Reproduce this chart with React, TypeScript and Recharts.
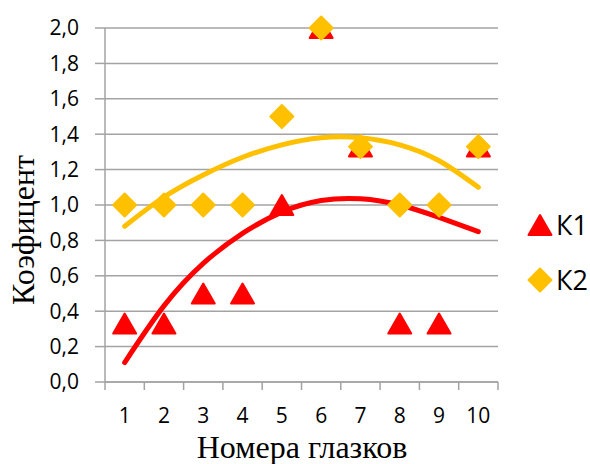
import React from 'react'
import {
  ComposedChart,
  Scatter,
  Line,
  XAxis,
  YAxis,
  CartesianGrid,
  Label,
} from 'recharts'

// номера глазков
const categories = [1, 2, 3, 4, 5, 6, 7, 8, 9, 10]
const k1 = [0.33, 0.33, 0.5, 0.5, 1.0, 2.0, 1.33, 0.33, 0.33, 1.33]
const k2 = [1.0, 1.0, 1.0, 1.0, 1.5, 2.0, 1.33, 1.0, 1.0, 1.33]
// полиномиальные линии тренда
const trendK1 = [0.11, 0.43, 0.67, 0.84, 0.96, 1.025, 1.035, 1.0, 0.93, 0.85]
const trendK2 = [0.88, 1.045, 1.17, 1.27, 1.34, 1.38, 1.38, 1.34, 1.25, 1.1]
const yTicks = [0, 0.2, 0.4, 0.6, 0.8, 1.0, 1.2, 1.4, 1.6, 1.8, 2.0]
const xTicks = [0.5, 1, 1.5, 2, 2.5, 3, 3.5, 4, 4.5, 5, 5.5, 6, 6.5, 7, 7.5, 8, 8.5, 9, 9.5, 10, 10.5]

const RED = '#FF0000'
const ORANGE = '#FFC000'
const GRID = '#a3a3a3'
const SANS = '"Open Sans", "Noto Sans", sans-serif'
const SERIF = '"Liberation Serif", "DejaVu Serif", serif'

const data = categories.map((x, i) => ({
  x,
  k1: k1[i],
  k2: k2[i],
  t1: trendK1[i],
  t2: trendK2[i],
}))

function triangle(cx: number, cy: number, color: string) {
  const pts = `${cx},${cy - 10} ${cx + 11.5},${cy + 10} ${cx - 11.5},${cy + 10}`
  return <polygon points={pts} fill={color} stroke={color} strokeWidth={2} strokeLinejoin="round" />
}

function diamond(cx: number, cy: number, color: string) {
  const pts = `${cx},${cy - 11.5} ${cx + 11.5},${cy} ${cx},${cy + 11.5} ${cx - 11.5},${cy}`
  return <polygon points={pts} fill={color} stroke={color} strokeWidth={2} strokeLinejoin="round" />
}

const TriangleShape = (p: any) => <g>{triangle(p.cx, p.cy, RED)}</g>
const DiamondShape = (p: any) => <g>{diamond(p.cx, p.cy, ORANGE)}</g>

// целые значения — подписи, половинки — засечки между категориями
const XTick = (p: any) => {
  const v = p.payload.value
  if (Number.isInteger(v)) {
    return (
      <text x={p.x} y={p.y + 33} textAnchor="middle" fontFamily={SANS} fontSize={21} fill="#000">
        {v}
      </text>
    )
  }
  return <line x1={p.x} x2={p.x} y1={p.y - 8} y2={p.y} stroke={GRID} strokeWidth={1.5} />
}

function LegendBox() {
  const rows = [
    { name: 'К1', draw: (y: number) => triangle(15, y, RED) },
    { name: 'К2', draw: (y: number) => diamond(15, y, ORANGE) },
  ]
  return (
    <svg width={66} height={110} style={{ position: 'absolute', left: 525, top: 198 }}>
      {rows.map((r, i) => {
        const y = 27 + i * 55
        return (
          <g key={r.name}>
            {r.draw(y)}
            <text x={31} y={y + 10} fontFamily={SANS} fontSize={27} fill="#000">
              {r.name}
            </text>
          </g>
        )
      })}
    </svg>
  )
}

export default function App() {
  return (
    <div style={{ position: 'absolute', left: 0, top: 0, width: 590, height: 464, background: '#fff' }}>
      <ComposedChart width={590} height={464} data={data} margin={{ top: 28, right: 92, bottom: 0, left: 0 }}>
        <CartesianGrid vertical={false} stroke={GRID} strokeWidth={1.5} />
        <XAxis
          dataKey="x"
          type="number"
          domain={[0.5, 10.5]}
          ticks={xTicks}
          interval={0}
          height={82}
          tickSize={8}
          tickMargin={0}
          tickLine={false}
          axisLine={{ stroke: GRID, strokeWidth: 1.5 }}
          tick={<XTick />}
        >
          <Label
            content={() => (
              <text x={302} y={458} textAnchor="middle" fontFamily={SERIF} fontSize={32} fill="#000">
                Номера глазков
              </text>
            )}
          />
        </XAxis>
        <YAxis
          type="number"
          domain={[0, 2]}
          ticks={yTicks}
          interval={0}
          width={105}
          tickSize={10}
          tickMargin={16}
          tickLine={{ stroke: GRID, strokeWidth: 1.5 }}
          axisLine={{ stroke: GRID, strokeWidth: 1.5 }}
          tick={{ fontFamily: SANS, fontSize: 21, fill: '#000' }}
          tickFormatter={(v: number) => v.toFixed(1).replace('.', ',')}
        >
          <Label
            content={() => (
              <text
                x={34}
                y={230}
                transform="rotate(-90 34 230)"
                textAnchor="middle"
                fontFamily={SERIF}
                fontSize={32}
                fill="#000"
              >
                Коэфицент
              </text>
            )}
          />
        </YAxis>
        <Scatter dataKey="k1" shape={<TriangleShape />} isAnimationActive={false} />
        <Scatter dataKey="k2" shape={<DiamondShape />} isAnimationActive={false} />
        <Line
          type="natural"
          dataKey="t2"
          stroke={ORANGE}
          strokeWidth={5}
          strokeLinecap="round"
          dot={false}
          activeDot={false}
          isAnimationActive={false}
        />
        <Line
          type="natural"
          dataKey="t1"
          stroke={RED}
          strokeWidth={5}
          strokeLinecap="round"
          dot={false}
          activeDot={false}
          isAnimationActive={false}
        />
      </ComposedChart>
      <LegendBox />
    </div>
  )
}
